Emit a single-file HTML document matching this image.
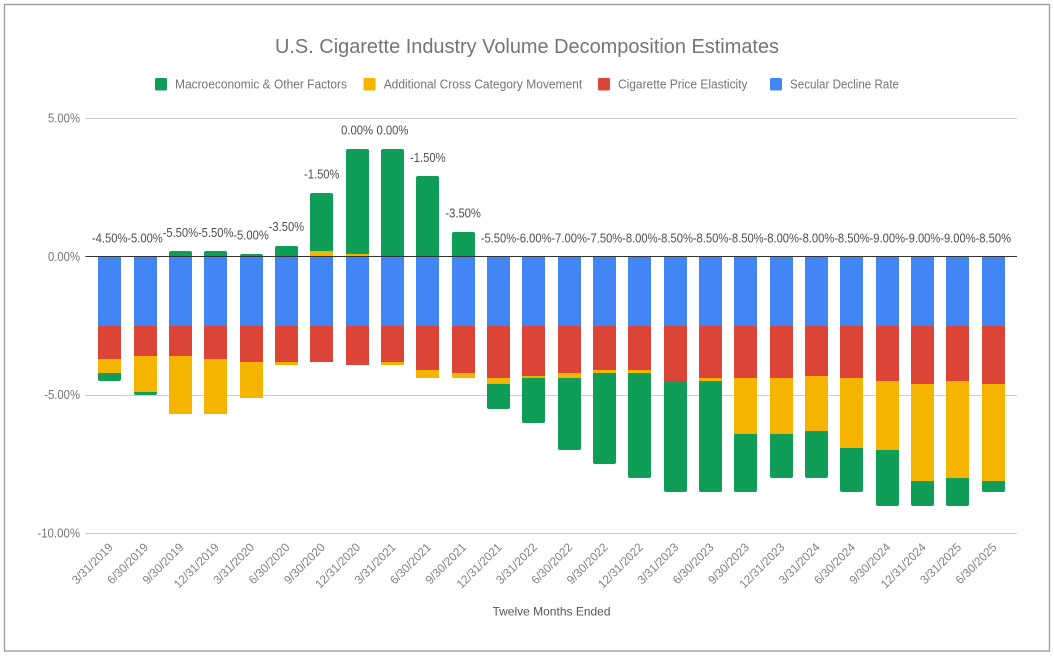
<!DOCTYPE html>
<html lang="en">
<head>
<meta charset="utf-8">
<title>U.S. Cigarette Industry Volume Decomposition Estimates</title>
<style>
html,body{margin:0;padding:0;background:#fff;}
body{width:1054px;height:656px;overflow:hidden;}
svg{display:block;font-family:"Liberation Sans",Arial,sans-serif;}
</style>
</head>
<body>
<svg id="chart" xmlns="http://www.w3.org/2000/svg" width="1054" height="656" viewBox="0 0 1054 656">
  <rect x="0" y="0" width="1054" height="656" fill="#ffffff"/>
  <rect x="4.5" y="4.5" width="1045" height="646.5" fill="none" stroke="#9e9e9e" stroke-width="1.4"/>
  <text x="527" y="53" text-anchor="middle" font-size="20" fill="#757575" textLength="504" lengthAdjust="spacingAndGlyphs">U.S. Cigarette Industry Volume Decomposition Estimates</text>
  <g font-size="12.5" fill="#757575">
    <g>
      <rect x="155" y="78" width="12" height="12.5" rx="1.5" fill="#0f9d58"/>
      <text x="175" y="88.300" textLength="172" lengthAdjust="spacingAndGlyphs">Macroeconomic &amp; Other Factors</text>
    </g>
    <g>
      <rect x="363.500" y="78" width="12" height="12.5" rx="1.5" fill="#f4b400"/>
      <text x="383.700" y="88.300" textLength="198.500" lengthAdjust="spacingAndGlyphs">Additional Cross Category Movement</text>
    </g>
    <g>
      <rect x="598" y="78" width="12" height="12.5" rx="1.5" fill="#db4437"/>
      <text x="618" y="88.300" textLength="129.500" lengthAdjust="spacingAndGlyphs">Cigarette Price Elasticity</text>
    </g>
    <g>
      <rect x="770" y="78" width="12" height="12.5" rx="1.5" fill="#4285f4"/>
      <text x="790" y="88.300" textLength="109" lengthAdjust="spacingAndGlyphs">Secular Decline Rate</text>
    </g>
  </g>
  <text x="551.500" y="615.500" text-anchor="middle" font-size="12" fill="#555555">Twelve Months Ended</text>
</svg>
<script>
var categories = ["3/31/2019","6/30/2019","9/30/2019","12/31/2019","3/31/2020","6/30/2020","9/30/2020","12/31/2020","3/31/2021","6/30/2021","9/30/2021","12/31/2021","3/31/2022","6/30/2022","9/30/2022","12/31/2022","3/31/2023","6/30/2023","9/30/2023","12/31/2023","3/31/2024","6/30/2024","9/30/2024","12/31/2024","3/31/2025","6/30/2025"];
var secularDecline = [-2.5,-2.5,-2.5,-2.5,-2.5,-2.5,-2.5,-2.5,-2.5,-2.5,-2.5,-2.5,-2.5,-2.5,-2.5,-2.5,-2.5,-2.5,-2.5,-2.5,-2.5,-2.5,-2.5,-2.5,-2.5,-2.5];
var priceElasticity = [-1.2,-1.1,-1.1,-1.2,-1.3,-1.3,-1.3,-1.4,-1.3,-1.6,-1.7,-1.9,-1.8,-1.7,-1.6,-1.6,-2.0,-1.9,-1.9,-1.9,-1.8,-1.9,-2.0,-2.1,-2.0,-2.1];
var crossCategory = [-0.5,-1.3,-2.1,-2.0,-1.3,-0.1,0.2,0.1,-0.1,-0.3,-0.2,-0.2,-0.1,-0.2,-0.1,-0.1,0,-0.1,-2.0,-2.0,-2.0,-2.5,-2.5,-3.5,-3.5,-3.5];
var macroOther = [-0.3,-0.1,0.2,0.2,0.1,0.4,2.1,3.8,3.9,2.9,0.9,-0.9,-1.6,-2.6,-3.3,-3.8,-4.0,-4.0,-2.1,-1.6,-1.7,-1.6,-2.0,-0.9,-1.0,-0.4];
var totals = [-4.5,-5.0,-5.5,-5.5,-5.0,-3.5,-1.5,0,0,-1.5,-3.5,-5.5,-6.0,-7.0,-7.5,-8.0,-8.5,-8.5,-8.5,-8.0,-8.0,-8.5,-9.0,-9.0,-9.0,-8.5];
var yTicks = [5,0,-5,-10];

var SVG_NS = "http://www.w3.org/2000/svg";
var svg = document.getElementById("chart");

function xBand(i){ return 92 + (i + 0.5) * (919 / categories.length); }
function yScale(v){ return 256.7 - v * 27.66; }
function make(tag, attrs, parent){
  var el = document.createElementNS(SVG_NS, tag);
  for (var k in attrs) el.setAttribute(k, attrs[k]);
  parent.appendChild(el);
  return el;
}
function roundedEnd(x, w, flatY, endY, r){
  var dir = endY < flatY ? 1 : -1;
  var h = Math.abs(endY - flatY);
  r = Math.min(r, h);
  return "M" + x + " " + flatY + "V" + (endY + dir * r) +
    "Q" + x + " " + endY + " " + (x + r) + " " + endY +
    "H" + (x + w - r) +
    "Q" + (x + w) + " " + endY + " " + (x + w) + " " + (endY + dir * r) +
    "V" + flatY + "Z";
}
function tickWidth(s){
  var w = 0;
  for (var i = 0; i < s.length; i++) {
    var c = s.charAt(i);
    w += c === "-" ? 3.8 : c === "." ? 3 : c === "%" ? 8.6 : 6.8;
  }
  return w;
}

var gridGroup = make("g", {}, svg);


yTicks.forEach(function(t){
  var y = Math.floor(yScale(t)) + 0.5;
  if (t !== 0) {
    var line = make("line", {x1:85.5, x2:1017, y1:y, y2:y, stroke:"#cccccc", "stroke-width":1}, gridGroup);
    
    
  }
  var label = t.toFixed(2) + "%";
  var lab = make("text", {x:80, y:yScale(t) + 4.2, "text-anchor":"end", "font-size":12.5, fill:"#757575"}, gridGroup);
  
  
  lab.setAttribute('textLength', String(tickWidth(label)));
  lab.setAttribute('lengthAdjust', 'spacingAndGlyphs');
  lab.textContent = label;
});

var seriesList = [
  {key:"secular-decline", values:secularDecline, color:"#4285f4"},
  {key:"price-elasticity", values:priceElasticity, color:"#db4437"},
  {key:"cross-category", values:crossCategory, color:"#f4b400"},
  {key:"macroeconomic", values:macroOther, color:"#0f9d58"}
];

var barsGroup = make("g", {}, svg);



categories.forEach(function(cat, i){
  var center = xBand(i);
  var x = Math.round(center - 11.5);
  var w = 23;
  var neg = 0, pos = 0;
  seriesList.forEach(function(s){
    var v = s.values[i];
    if (!v) return;
    var from = v < 0 ? neg : pos;
    var to = from + v;
    if (v < 0) neg = to; else pos = to;
    var y0 = Math.round(yScale(from));
    var y1 = Math.round(yScale(to));
    var el;
    if (s.key === "macroeconomic") {
      el = make("path", {d:roundedEnd(x, w, y0, y1, 2), fill:s.color}, barsGroup);
    } else {
      el = make("rect", {x:x, y:Math.min(y0, y1), width:w, height:Math.abs(y1 - y0), fill:s.color, "shape-rendering":"crispEdges"}, barsGroup);
    }
    
    
  });

  var topY = yScale(pos);
  var valueLabel = make("text", {x:center, y:topY - 14.4, "text-anchor":"middle", "font-size":12.5, fill:"#4d4d4d"}, svg);
  
  
  var txt = totals[i].toFixed(2) + "%";
  valueLabel.setAttribute('textLength', txt.charAt(0) === "-" ? '35.5' : '32');
  valueLabel.setAttribute('lengthAdjust', 'spacingAndGlyphs');
  valueLabel.textContent = txt;

  var tickX = center + 4;
  var tick = make("text", {x:tickX, y:548, "text-anchor":"end", "font-size":12, fill:"#808080", transform:"rotate(-45 " + tickX + " 548)"}, svg);
  
  
  tick.setAttribute('textLength', String(cat.length * 5.8));
  tick.setAttribute('lengthAdjust', 'spacingAndGlyphs');
  tick.textContent = cat;
});

var zeroLine = make("line", {x1:85.5, x2:1017, y1:256.5, y2:256.5, stroke:"#333333", "stroke-width":1}, svg);


</script>
</body>
</html>
